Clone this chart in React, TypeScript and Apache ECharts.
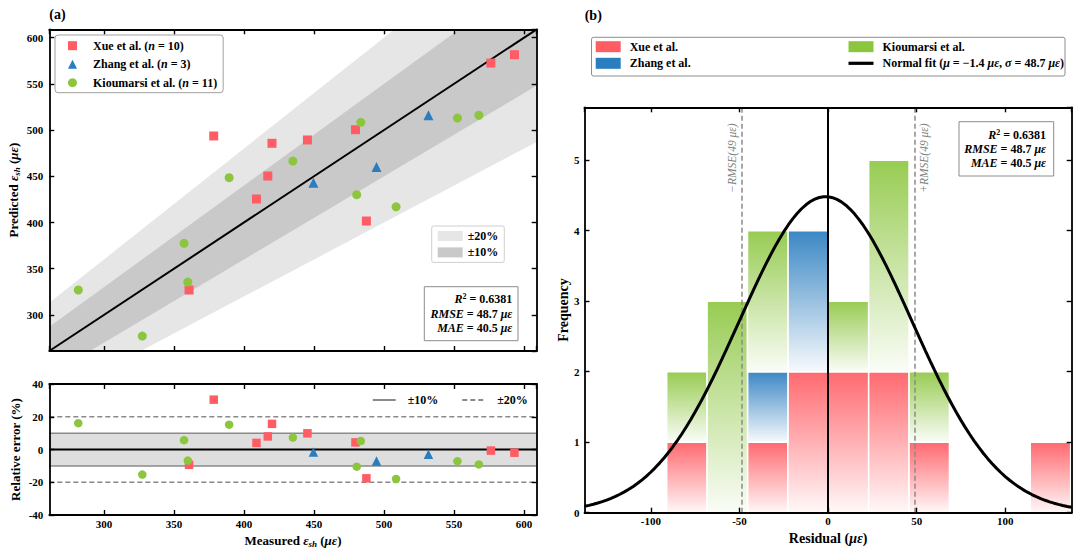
import React, { useEffect, useRef } from "react";
import * as echarts from "echarts";

const FONT = '"Liberation Serif", "Times New Roman", serif';

// ---------- Panel (a): measured vs predicted shrinkage strain (με) ----------
const xueMeasured = [360.8, 378.4, 408.9, 417.0, 420.0, 445.3, 479.6, 487.4, 576.3, 593.1];
const xuePredicted = [327.0, 493.6, 425.4, 450.3, 485.7, 489.3, 500.4, 401.6, 572.5, 581.5];
const zhangMeasured = [449.6, 494.6, 531.7];
const zhangPredicted = [443.0, 460.0, 516.0];
const kiouMeasured = [281.7, 327.4, 357.2, 359.9, 389.4, 434.9, 480.5, 483.4, 508.6, 552.4, 567.7];
const kiouPredicted = [327.0, 277.2, 377.5, 335.6, 448.5, 466.5, 430.1, 508.4, 417.0, 513.0, 516.0];

const strainLimits = [261, 609];
const errorLimits = [-40, 40];
const innerBand = 10; // ±10 %
const outerBand = 20; // ±20 %

// ---------- Panel (b): residual histogram (counts per bin) ----------
const binWidth = 22.8;
const binCenters = [-79.7, -56.9, -34.1, -11.3, 11.5, 34.3, 57.1, 79.9, 102.7, 125.5];
const xueCounts = [1, 0, 1, 2, 2, 2, 1, 0, 0, 1];
const zhangCounts = [0, 0, 1, 2, 0, 0, 0, 0, 0, 0];
const kiouCounts = [1, 3, 2, 0, 1, 3, 1, 0, 0, 0];
const residualLimits = [-137.5, 137.5];
const frequencyLimits = [0, 5.75];
const fitMu = -1.4;
const fitSigma = 48.7;
const rmseValue = 48.7;

const statR2 = "0.6381";
const statRMSE = "48.7";
const statMAE = "40.5";

const RED = "#FF5C63";
const BLUE = "#2A7DBF";
const GREEN = "#8CC63F";

const NAME_XUE = "Xue et al. (n = 10)";
const NAME_ZHANG = "Zhang et al. (n = 3)";
const NAME_KIOU = "Kioumarsi et al. (n = 11)";

const txt = (size: number, extra: any = {}) => ({
  fontFamily: FONT,
  fontWeight: "bold",
  fontSize: size,
  color: "#000",
  ...extra,
});

const richSet = (size: number, lh?: number) => {
  const base: any = { fontFamily: FONT, fontWeight: "bold", fontSize: size, color: "#000" };
  if (lh) base.lineHeight = lh;
  return {
    b: { ...base },
    i: { ...base, fontStyle: "italic" },
    sub: { ...base, fontStyle: "italic", fontSize: Math.round(size * 0.72), padding: [7, 0, 0, 0] },
    sup: { ...base, fontSize: Math.round(size * 0.65), padding: [0, 0, 6, 0] },
  };
};

function axis(gridIndex: number, position: string, limits: number[], labels: boolean, extra: any = {}) {
  return {
    type: "value",
    gridIndex,
    position,
    min: limits[0],
    max: limits[1],
    z: 10,
    axisLine: { show: true, onZero: false, lineStyle: { color: "#000", width: 1.8 } },
    axisTick: { show: true, inside: true, length: 5, lineStyle: { color: "#000", width: 1.4 } },
    axisLabel: labels
      ? { show: true, ...txt(11), margin: 6, showMinLabel: false, showMaxLabel: false }
      : { show: false },
    splitLine: { show: false },
    ...extra,
  };
}

function App() {
  const ref = useRef<HTMLDivElement>(null);

  useEffect(() => {
    document.body.style.margin = "0";
    if (!ref.current) return;
    const chart = echarts.init(ref.current, null, { renderer: "svg" });

    const pts = (m: number[], p: number[]) => m.map((v, i) => [v, p[i]]);
    const rel = (m: number[], p: number[]) => m.map((v, i) => [v, ((p[i] - v) / v) * 100]);

    // histogram segments [center, lower, upper]
    const base = binCenters.map(() => 0);
    const segs = (counts: number[]) => {
      const out: number[][] = [];
      counts.forEach((c, i) => {
        if (c > 0) out.push([binCenters[i], base[i], base[i] + c]);
        base[i] += c;
      });
      return out;
    };
    const xueSeg = segs(xueCounts);
    const zhangSeg = segs(zhangCounts);
    const kiouSeg = segs(kiouCounts);

    const nTotal = xueMeasured.length + zhangMeasured.length + kiouMeasured.length;
    const curve: number[][] = [];
    for (let x = residualLimits[0]; x <= residualLimits[1] + 1e-9; x += 2.5) {
      const z = (x - fitMu) / fitSigma;
      curve.push([x, (nTotal * binWidth * Math.exp(-0.5 * z * z)) / (fitSigma * Math.sqrt(2 * Math.PI))]);
    }

    const histRender = (top: string, bottom: string) => (params: any, api: any) => {
      const c = api.value(0);
      const lo = api.value(1);
      const hi = api.value(2);
      const tl = api.coord([c - binWidth / 2, hi]);
      const br = api.coord([c + binWidth / 2, lo]);
      return {
        type: "rect",
        shape: { x: tl[0], y: tl[1], width: br[0] - tl[0], height: br[1] - tl[1] },
        style: {
          fill: new echarts.graphic.LinearGradient(0, 0, 0, 1, [
            { offset: 0, color: top },
            { offset: 1, color: bottom },
          ]),
          stroke: "#fff",
          lineWidth: 1.5,
        },
      };
    };

    const bandLine = (name: string, factor: number, fill: string) => ({
      type: "line",
      name,
      xAxisIndex: 0,
      yAxisIndex: 0,
      data: strainLimits.map((x) => [x, x * factor]),
      symbol: "none",
      silent: true,
      color: fill,
      itemStyle: { color: fill },
      lineStyle: { width: 0, color: fill },
      areaStyle: { color: fill, opacity: 1, origin: "start" },
      z: 1,
    });

    const limitLine = (name: string, v: number, dashed: boolean) => ({
      type: "line",
      name,
      xAxisIndex: 2,
      yAxisIndex: 2,
      data: strainLimits.map((x) => [x, v]),
      symbol: "none",
      silent: true,
      color: "#8a8a8a",
      lineStyle: { color: "#8a8a8a", width: dashed ? 1.3 : 1.5, type: dashed ? [5, 3] : "solid" },
      z: 2,
    });

    const scatter = (name: string, symbol: string, color: string, data: number[][], xi: number, size: number) => ({
      type: "scatter",
      name,
      xAxisIndex: xi,
      yAxisIndex: xi,
      symbol,
      symbolSize: symbol === "triangle" ? size + 1 : size,
      itemStyle: { color, opacity: 1 },
      data,
      z: 5,
    });

    const legendLabels: Record<string, string> = {
      [NAME_XUE]: "Xue et al. ({i|n} = 10)",
      [NAME_ZHANG]: "Zhang et al. ({i|n} = 3)",
      [NAME_KIOU]: "Kioumarsi et al. ({i|n} = 11)",
      band20: "±20%",
      band10: "±10%",
      lim10: "±10%",
      lim20: "±20%",
      "Normal fit": "Normal fit ({i|μ} = −1.4 {i|με}, {i|σ} = 48.7 {i|με})",
    };
    const fmt = (n: string) => legendLabels[n] ?? n;

    const statsText = `{i|R}{sup|2}{b| = ${statR2}}\n{i|RMSE}{b| = ${statRMSE} }{i|με}\n{i|MAE}{b| = ${statMAE} }{i|με}`;

    const rmseLabel = (text: string, pos: string) => ({
      show: true,
      formatter: text,
      position: pos,
      distance: [16, 4],
      fontFamily: FONT,
      fontStyle: "italic",
      fontSize: 11.5,
      color: "#808080",
    });

    const hiddenSymbol = { opacity: 0 };

    const option: any = {
      animation: false,
      backgroundColor: "#fff",
      textStyle: { fontFamily: FONT },
      grid: [
        { left: 49.3, top: 29.3, width: 487.4, height: 321.7 },
        { left: 49.3, top: 384, width: 487.4, height: 131 },
        { left: 584.5, top: 107.3, width: 487.2, height: 405.4 },
      ],
      xAxis: [
        axis(0, "bottom", strainLimits, false),
        axis(0, "top", strainLimits, false),
        axis(1, "bottom", strainLimits, true, {
          axisLabel: { show: true, ...txt(11), margin: 3, showMinLabel: false, showMaxLabel: false },
          name: "{b|Measured }{i|ε}{sub|sh}{b| (}{i|με}{b|)}",
          nameLocation: "middle",
          nameGap: 17,
          nameTextStyle: { ...txt(13), rich: richSet(13) },
        }),
        axis(1, "top", strainLimits, false),
        axis(2, "bottom", residualLimits, true, {
          axisLabel: { show: true, ...txt(11), margin: 3, showMinLabel: false, showMaxLabel: false },
          name: "{b|Residual (}{i|με}{b|)}",
          nameLocation: "middle",
          nameGap: 18,
          nameTextStyle: { ...txt(14), rich: richSet(14) },
        }),
        axis(2, "top", residualLimits, false),
      ],
      yAxis: [
        axis(0, "left", strainLimits, true, {
          name: "{b|Predicted }{i|ε}{sub|sh}{b| (}{i|με}{b|)}",
          nameLocation: "middle",
          nameRotate: 90,
          nameGap: 28,
          nameTextStyle: { ...txt(13), rich: richSet(13) },
        }),
        axis(0, "right", strainLimits, false),
        axis(1, "left", errorLimits, true, {
          interval: 20,
          axisLabel: { show: true, ...txt(11), margin: 6 },
          name: "Relative error (%)",
          nameLocation: "middle",
          nameRotate: 90,
          nameGap: 27,
          nameTextStyle: txt(13),
        }),
        axis(1, "right", errorLimits, false, { interval: 20 }),
        axis(2, "left", frequencyLimits, true, {
          axisLabel: { show: true, ...txt(11), margin: 5, showMaxLabel: false },
          name: "Frequency",
          nameLocation: "middle",
          nameRotate: 90,
          nameGap: 13,
          nameTextStyle: txt(14),
        }),
        axis(2, "right", frequencyLimits, false),
      ],
      legend: [
        {
          orient: "vertical",
          left: 55,
          top: 35,
          padding: [4.7, 6, 4, 13],
          itemGap: 6.5,
          itemWidth: 9,
          itemHeight: 9,
          borderColor: "#a0a0a0",
          borderWidth: 1,
          borderRadius: 3,
          backgroundColor: "#fff",
          data: [NAME_XUE, NAME_ZHANG, NAME_KIOU],
          formatter: fmt,
          textStyle: { ...txt(12), padding: [0, 0, 0, 11], rich: richSet(12) },
        },
        {
          orient: "vertical",
          left: 431.7,
          top: 226,
          padding: [4, 6, 4, 6],
          itemGap: 4.4,
          itemWidth: 25,
          itemHeight: 10,
          borderColor: "#cfcfcf",
          borderWidth: 1,
          borderRadius: 2,
          backgroundColor: "#fff",
          data: [
            { name: "band20", icon: "rect" },
            { name: "band10", icon: "rect" },
          ],
          formatter: fmt,
          textStyle: txt(12),
        },
        {
          orient: "horizontal",
          left: 371.7,
          top: 394,
          padding: 0,
          itemGap: 23,
          itemWidth: 23,
          itemHeight: 10,
          data: [
            { name: "lim10", itemStyle: hiddenSymbol },
            { name: "lim20", itemStyle: hiddenSymbol },
          ],
          formatter: fmt,
          textStyle: { ...txt(12), padding: [0, 0, 0, 7] },
        },
        {
          orient: "vertical",
          left: 595.7,
          top: 40.7,
          padding: 0,
          itemGap: 4.6,
          itemWidth: 25,
          itemHeight: 11,
          data: [
            { name: "Xue et al.", icon: "rect", itemStyle: { color: RED } },
            { name: "Zhang et al.", icon: "rect", itemStyle: { color: BLUE } },
          ],
          textStyle: { ...txt(12), padding: [0, 0, 0, 4] },
        },
        {
          orient: "vertical",
          left: 846.9,
          top: 40.7,
          padding: 0,
          itemGap: 4.6,
          itemWidth: 25,
          itemHeight: 11,
          data: [
            { name: "Kioumarsi et al.", icon: "rect", itemStyle: { color: GREEN } },
            { name: "Normal fit", itemStyle: hiddenSymbol, lineStyle: { width: 3.2, color: "#000" } },
          ],
          formatter: fmt,
          textStyle: { ...txt(12), padding: [0, 0, 0, 4], rich: richSet(12) },
        },
      ],
      graphic: [
        { type: "text", x: 49.3, y: 14, z: 50, style: { text: "(a)", ...txt(14), fill: "#000", verticalAlign: "middle" } },
        { type: "text", x: 584.7, y: 15, z: 50, style: { text: "(b)", ...txt(14), fill: "#000", verticalAlign: "middle" } },
        {
          type: "rect",
          z: 50,
          shape: { x: 424.3, y: 286.7, width: 93.7, height: 54 },
          style: { fill: "#fff", stroke: "#8c8c8c", lineWidth: 1 },
        },
        {
          type: "text",
          z: 51,
          x: 512.3,
          y: 313.5,
          style: { text: statsText, rich: richSet(12, 14.5), align: "right", verticalAlign: "middle", ...txt(12), fill: "#000" },
        },
        {
          type: "rect",
          z: 50,
          shape: { x: 959, y: 121.7, width: 94.7, height: 54.3 },
          style: { fill: "#fff", stroke: "#8c8c8c", lineWidth: 1 },
        },
        {
          type: "text",
          z: 51,
          x: 1046,
          y: 149.3,
          style: { text: statsText, rich: richSet(12, 14), align: "right", verticalAlign: "middle", ...txt(12), fill: "#000" },
        },
        {
          type: "rect",
          z: 1,
          shape: { x: 591.5, y: 37.3, width: 473.5, height: 38.7, r: 2 },
          style: { fill: "#fff", stroke: "#8c8c8c", lineWidth: 1 },
        },
      ],
      series: [
        bandLine("band20", 1 + outerBand / 100, "#e6e6e6"),
        bandLine("band10", 1 + innerBand / 100, "#c9c9c9"),
        bandLine("_low10", 1 - innerBand / 100, "#e6e6e6"),
        bandLine("_low20", 1 - outerBand / 100, "#ffffff"),
        {
          type: "line",
          name: "_diag",
          xAxisIndex: 0,
          yAxisIndex: 0,
          data: strainLimits.map((v) => [v, v]),
          symbol: "none",
          silent: true,
          lineStyle: { color: "#000", width: 2 },
          z: 3,
        },
        scatter(NAME_XUE, "rect", RED, pts(xueMeasured, xuePredicted), 0, 9),
        scatter(NAME_ZHANG, "triangle", BLUE, pts(zhangMeasured, zhangPredicted), 0, 9),
        scatter(NAME_KIOU, "circle", GREEN, pts(kiouMeasured, kiouPredicted), 0, 9),

        // panel (a) bottom: relative error
        {
          type: "line",
          name: "_zero",
          xAxisIndex: 2,
          yAxisIndex: 2,
          data: strainLimits.map((x) => [x, 0]),
          symbol: "none",
          silent: true,
          lineStyle: { color: "#000", width: 2 },
          markArea: {
            silent: true,
            itemStyle: { color: "#dedede" },
            data: [[{ yAxis: -innerBand }, { yAxis: innerBand }]],
          },
          z: 3,
        },
        limitLine("lim10", innerBand, false),
        limitLine("lim10", -innerBand, false),
        limitLine("lim20", outerBand, true),
        limitLine("lim20", -outerBand, true),
        scatter(NAME_XUE, "rect", RED, rel(xueMeasured, xuePredicted), 2, 8.5),
        scatter(NAME_ZHANG, "triangle", BLUE, rel(zhangMeasured, zhangPredicted), 2, 8.5),
        scatter(NAME_KIOU, "circle", GREEN, rel(kiouMeasured, kiouPredicted), 2, 8.5),

        // panel (b): stacked histogram
        {
          type: "custom",
          name: "Xue et al.",
          xAxisIndex: 4,
          yAxisIndex: 4,
          color: RED,
          data: xueSeg,
          encode: { x: 0, y: [1, 2] },
          renderItem: histRender("rgba(255,92,99,0.92)", "rgba(255,92,99,0.04)"),
          z: 2,
        },
        {
          type: "custom",
          name: "Zhang et al.",
          xAxisIndex: 4,
          yAxisIndex: 4,
          color: BLUE,
          data: zhangSeg,
          encode: { x: 0, y: [1, 2] },
          renderItem: histRender("rgba(42,125,191,0.92)", "rgba(42,125,191,0.04)"),
          z: 2,
        },
        {
          type: "custom",
          name: "Kioumarsi et al.",
          xAxisIndex: 4,
          yAxisIndex: 4,
          color: GREEN,
          data: kiouSeg,
          encode: { x: 0, y: [1, 2] },
          renderItem: histRender("rgba(140,198,63,0.9)", "rgba(140,198,63,0.04)"),
          z: 2,
        },
        {
          type: "line",
          name: "Normal fit",
          xAxisIndex: 4,
          yAxisIndex: 4,
          data: curve,
          symbol: "none",
          color: "#000",
          lineStyle: { color: "#000", width: 3 },
          z: 5,
          markLine: {
            silent: true,
            symbol: ["none", "none"],
            data: [
              { xAxis: 0, lineStyle: { color: "#000", type: "solid", width: 2 }, label: { show: false } },
              {
                xAxis: -rmseValue,
                lineStyle: { color: "#8a8a8a", type: [5, 3], width: 1.5 },
                label: rmseLabel("−RMSE(49 με)", "insideEndTop"),
              },
              {
                xAxis: rmseValue,
                lineStyle: { color: "#8a8a8a", type: [5, 3], width: 1.5 },
                label: rmseLabel("+RMSE(49 με)", "insideEndBottom"),
              },
            ],
          },
        },
      ],
    };

    chart.setOption(option);
    return () => chart.dispose();
  }, []);

  return <div ref={ref} style={{ width: 1080, height: 555 }} />;
}

export default App;
